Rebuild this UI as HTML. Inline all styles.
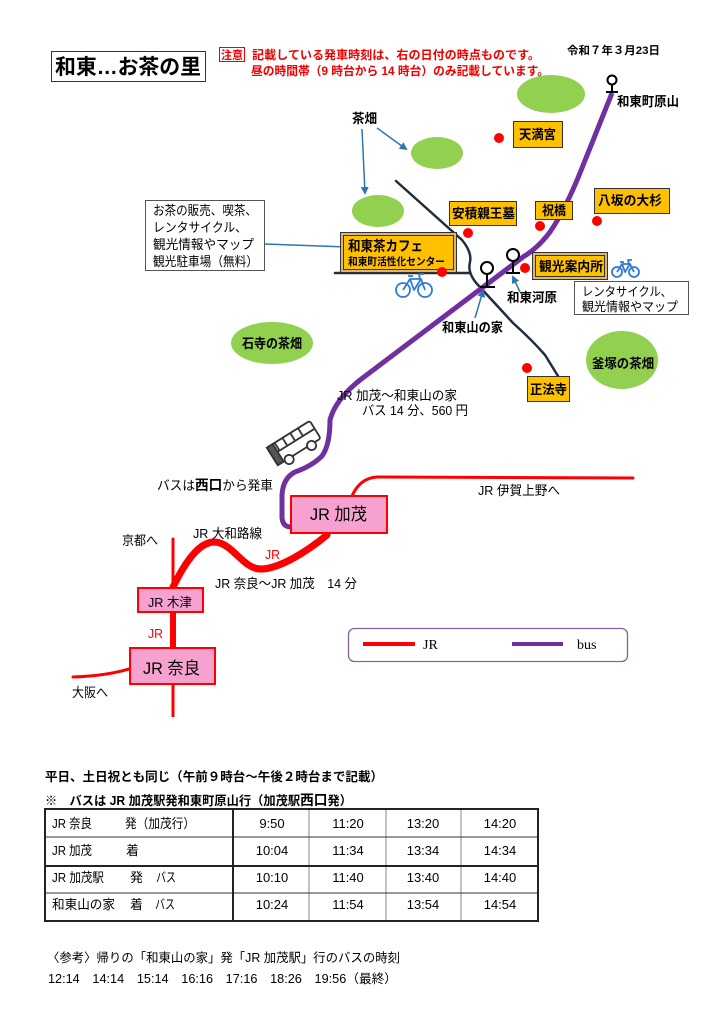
<!DOCTYPE html>
<html><head><meta charset="utf-8"><style>
html,body{margin:0;padding:0;background:#fff;}
svg{display:block;}
text{font-family:"Liberation Sans","Noto Sans CJK JP",sans-serif;}
.b{font-weight:bold;}
</style></head><body>
<svg width="724" height="1024" viewBox="0 0 724 1024" xmlns="http://www.w3.org/2000/svg">
<defs>
<marker id="ar" markerWidth="8" markerHeight="8" refX="6" refY="4" orient="auto" markerUnits="userSpaceOnUse">
<path d="M0,0 L8,4 L0,8 Z" fill="#2e75b6"/></marker>
</defs>

<!-- Title -->
<rect x="51.5" y="51.5" width="154" height="30" fill="#fff" stroke="#333" stroke-width="1"/>
<text x="55" y="74" font-size="21" class="b" textLength="146" lengthAdjust="spacingAndGlyphs">和東…お茶の里</text>

<rect x="219.5" y="47.5" width="25" height="14" fill="#fff" stroke="#e00" stroke-width="1"/>
<text x="221" y="59" font-size="11.5" class="b" fill="#e00" textLength="22" lengthAdjust="spacingAndGlyphs">注意</text>
<text x="252" y="59" font-size="12" class="b" fill="#e00" textLength="288" lengthAdjust="spacingAndGlyphs">記載している発車時刻は、右の日付の時点ものです。</text>
<text x="251" y="75" font-size="12" class="b" fill="#e00" textLength="298" lengthAdjust="spacingAndGlyphs">昼の時間帯（9 時台から 14 時台）のみ記載しています。</text>
<text x="567" y="54" font-size="11" class="b" textLength="93" lengthAdjust="spacingAndGlyphs">令和７年３月23日</text>

<!-- green fields -->
<g fill="#92d050">
<ellipse cx="551" cy="94" rx="34" ry="19"/>
<ellipse cx="437" cy="153" rx="26" ry="16"/>
<ellipse cx="378" cy="211" rx="26" ry="16"/>
<ellipse cx="272" cy="343" rx="41" ry="21"/>
<ellipse cx="622" cy="360" rx="36" ry="29"/>
</g>
<text x="242" y="348" font-size="13" class="b" textLength="60" lengthAdjust="spacingAndGlyphs">石寺の茶畑</text>
<text x="592" y="368" font-size="13" class="b" textLength="62" lengthAdjust="spacingAndGlyphs">釜塚の茶畑</text>

<!-- 茶畑 label and arrows -->
<text x="352" y="123" font-size="13" class="b" textLength="25" lengthAdjust="spacingAndGlyphs">茶畑</text>
<line x1="362" y1="129" x2="365" y2="193" stroke="#2e75b6" stroke-width="1.5" marker-end="url(#ar)"/>
<line x1="377" y1="128" x2="406" y2="149" stroke="#2e75b6" stroke-width="1.5" marker-end="url(#ar)"/>

<!-- info box -->
<rect x="145.5" y="200.5" width="119" height="70" fill="#fff" stroke="#555" stroke-width="1"/>
<text x="153" y="215" font-size="13" textLength="104" lengthAdjust="spacingAndGlyphs">お茶の販売、喫茶、</text>
<text x="153" y="232" font-size="13" textLength="94" lengthAdjust="spacingAndGlyphs">レンタサイクル、</text>
<text x="153" y="249" font-size="13" textLength="101" lengthAdjust="spacingAndGlyphs">観光情報やマップ</text>
<text x="153" y="266" font-size="13" textLength="105" lengthAdjust="spacingAndGlyphs">観光駐車場（無料）</text>
<line x1="265" y1="244" x2="347" y2="247" stroke="#2e75b6" stroke-width="1.5" marker-end="url(#ar)"/>

<!-- dark road -->
<g fill="none" stroke="#1f2d3d" stroke-width="2.5" stroke-linecap="round">
<path d="M396,181 L462,240 Q472,252 470,262 Q467,273 478,285 L513,323 Q532,340 545,355 L558,376"/>
<line x1="335" y1="273" x2="470" y2="273"/>
</g>

<!-- cafe box -->
<rect x="340.5" y="232.5" width="116" height="40" fill="#d8b872" stroke="#333" stroke-width="1"/>
<rect x="343.5" y="235.5" width="110" height="34" fill="#ffc000" stroke="#333" stroke-width="1"/>
<text x="348" y="251" font-size="14" class="b" textLength="75" lengthAdjust="spacingAndGlyphs">和東茶カフェ</text>
<text x="348" y="265" font-size="10.5" class="b" textLength="97" lengthAdjust="spacingAndGlyphs">和東町活性化センター</text>

<!-- purple bus route -->
<path d="M612,93 L580,173 Q565,210 550,232 Q538,248 523,257 L360,380 Q335,400 330,420 Q330,445 322,456 Q312,466 295,472 Q283,478 282,495 L282,518 Q283,527 291,527" fill="none" stroke="#7030a0" stroke-width="5" stroke-linejoin="round"/>

<!-- orange boxes -->
<g fill="#ffc000" stroke="#333" stroke-width="1">
<rect x="513.5" y="121.5" width="49" height="26"/>
<rect x="449.5" y="201.5" width="67" height="24"/>
<rect x="535.5" y="201.5" width="37" height="18"/>
<rect x="594.5" y="188.5" width="75" height="25"/>
<rect x="527.5" y="376.5" width="42" height="25"/>
</g>
<rect x="532.5" y="252.5" width="75" height="27" fill="#d8b872" stroke="#333" stroke-width="1"/>
<rect x="535.5" y="255.5" width="69" height="21" fill="#ffc000" stroke="#333" stroke-width="1"/>
<g font-size="13" class="b">
<text x="519" y="139" textLength="37" lengthAdjust="spacingAndGlyphs">天満宮</text>
<text x="452" y="218" textLength="63" lengthAdjust="spacingAndGlyphs">安積親王墓</text>
<text x="542" y="215" textLength="24" lengthAdjust="spacingAndGlyphs">祝橋</text>
<text x="598" y="205" textLength="64" lengthAdjust="spacingAndGlyphs">八坂の大杉</text>
<text x="539" y="271" textLength="64" lengthAdjust="spacingAndGlyphs">観光案内所</text>
<text x="530" y="394" textLength="37" lengthAdjust="spacingAndGlyphs">正法寺</text>
</g>

<!-- red dots -->
<g fill="#ff0000">
<circle cx="499" cy="138" r="5"/>
<circle cx="468" cy="233" r="5"/>
<circle cx="540" cy="226" r="5"/>
<circle cx="597" cy="221" r="5"/>
<circle cx="525" cy="268" r="5"/>
<circle cx="442" cy="272" r="5"/>
<circle cx="527" cy="368" r="5"/>
</g>

<!-- bus stops -->
<g fill="none" stroke="#000" stroke-width="2">
<circle cx="612" cy="80" r="4.5"/>
<line x1="612" y1="85" x2="612" y2="92"/>
<line x1="606" y1="92" x2="618" y2="92"/>
<circle cx="487" cy="268" r="6"/>
<line x1="487" y1="274" x2="487" y2="287"/>
<line x1="480" y1="287" x2="495" y2="287"/>
<circle cx="513" cy="255" r="6"/>
<line x1="513" y1="261" x2="513" y2="273"/>
<line x1="506" y1="273" x2="520" y2="273"/>
</g>
<text x="617" y="106" font-size="13" class="b" textLength="62" lengthAdjust="spacingAndGlyphs">和東町原山</text>
<text x="507" y="302" font-size="13" class="b" textLength="50" lengthAdjust="spacingAndGlyphs">和東河原</text>
<text x="442" y="332" font-size="13" class="b" textLength="61" lengthAdjust="spacingAndGlyphs">和東山の家</text>
<line x1="475" y1="318" x2="483" y2="291" stroke="#2e75b6" stroke-width="1.5" marker-end="url(#ar)"/>
<line x1="520" y1="292" x2="513" y2="277" stroke="#2e75b6" stroke-width="1.5" marker-end="url(#ar)"/>

<!-- rental box -->
<rect x="574.5" y="281.5" width="114" height="33" fill="#fff" stroke="#555" stroke-width="1"/>
<text x="582" y="296" font-size="12.5" textLength="90" lengthAdjust="spacingAndGlyphs">レンタサイクル、</text>
<text x="582" y="311" font-size="12.5" textLength="96" lengthAdjust="spacingAndGlyphs">観光情報やマップ</text>

<!-- bicycles -->
<g fill="none" stroke="#2e7bd6" stroke-width="1.8" stroke-linejoin="round">
<circle cx="403" cy="290" r="7"/>
<circle cx="425" cy="290" r="7"/>
<path d="M403,290 L410,279 L421,279 L425,290 M410,279 L414,290 L421,279 M408,276 L413,276 M420,279 L419,274 L424,274"/>
<circle cx="617" cy="272" r="5"/>
<circle cx="634" cy="272" r="5"/>
<path d="M617,272 L622,264 L630,264 L634,272 M622,264 L625,272 L630,264 M620,262 L624,262 M629,264 L628,260 L632,260"/>
</g>

<!-- bus text -->
<text x="337" y="400" font-size="13" textLength="120" lengthAdjust="spacingAndGlyphs">JR 加茂～和東山の家</text>
<text x="362" y="415" font-size="13" textLength="106" lengthAdjust="spacingAndGlyphs">バス 14 分、560 円</text>

<!-- bus icon -->
<g transform="translate(295,445) rotate(-32) scale(1.15)" fill="none" stroke="#333" stroke-width="1.6">
<rect x="-22" y="-11" width="44" height="18" rx="2" fill="#fff"/>
<line x1="-22" y1="-3" x2="22" y2="-3"/>
<line x1="-14" y1="-11" x2="-14" y2="-3"/>
<line x1="-6" y1="-11" x2="-6" y2="-3"/>
<line x1="2" y1="-11" x2="2" y2="-3"/>
<line x1="10" y1="-11" x2="10" y2="-3"/>
<rect x="-22" y="-11" width="6" height="18" fill="#555"/>
<circle cx="-11" cy="8" r="4" fill="#fff"/>
<circle cx="12" cy="8" r="4" fill="#fff"/>
</g>

<text x="157" y="490" font-size="13" textLength="116" lengthAdjust="spacingAndGlyphs">バスは<tspan class="b" font-size="14">西口</tspan>から発車</text>

<!-- JR lines -->
<g fill="none" stroke="#ff0000" stroke-linecap="round">
<path d="M352,496 Q360,478 377,477 L633,478" stroke-width="3"/>
<path d="M327,535 C305,553 280,568 262,569 C245,570 235,548 220,543 C205,538 190,552 173,587" stroke-width="7"/>
<line x1="173" y1="539" x2="173" y2="588" stroke-width="3"/>
<line x1="173" y1="612" x2="173" y2="648" stroke-width="6"/>
<line x1="173" y1="684" x2="173" y2="717" stroke-width="3" stroke-linecap="butt"/>
<path d="M73,677 Q105,676 129,669" stroke-width="3"/>
</g>

<!-- station boxes -->
<rect x="291" y="496" width="96" height="37" fill="#f7a1d0" stroke="#ff0000" stroke-width="2"/>
<text x="310" y="520" font-size="17" textLength="57" lengthAdjust="spacingAndGlyphs">JR 加茂</text>
<rect x="138" y="588" width="65" height="24" fill="#f7a1d0" stroke="#ff0000" stroke-width="2"/>
<text x="148" y="607" font-size="13" textLength="44" lengthAdjust="spacingAndGlyphs">JR 木津</text>
<rect x="130" y="648" width="85" height="36" fill="#f7a1d0" stroke="#ff0000" stroke-width="2"/>
<text x="143" y="674" font-size="17" textLength="57" lengthAdjust="spacingAndGlyphs">JR 奈良</text>

<text x="478" y="495" font-size="13" textLength="82" lengthAdjust="spacingAndGlyphs">JR 伊賀上野へ</text>
<text x="193" y="538" font-size="13" textLength="69" lengthAdjust="spacingAndGlyphs">JR 大和路線</text>
<text x="265" y="559" font-size="13" fill="#ff0000" textLength="15" lengthAdjust="spacingAndGlyphs">JR</text>
<text x="215" y="588" font-size="13" textLength="142" lengthAdjust="spacingAndGlyphs">JR 奈良～JR 加茂　14 分</text>
<text x="122" y="545" font-size="13" textLength="36" lengthAdjust="spacingAndGlyphs">京都へ</text>
<text x="148" y="638" font-size="13" fill="#ff0000" textLength="15" lengthAdjust="spacingAndGlyphs">JR</text>
<text x="72" y="697" font-size="13" textLength="36" lengthAdjust="spacingAndGlyphs">大阪へ</text>

<!-- legend -->
<rect x="348.5" y="628.5" width="279" height="33" rx="6" fill="#fff" stroke="#8064a2" stroke-width="1.3"/>
<line x1="363" y1="644" x2="415" y2="644" stroke="#ff0000" stroke-width="4"/>
<text x="423" y="649" font-size="14" style="font-family:'Liberation Serif',serif">JR</text>
<line x1="512" y1="644" x2="563" y2="644" stroke="#7030a0" stroke-width="4"/>
<text x="577" y="649" font-size="14" style="font-family:'Liberation Serif',serif">bus</text>

<!-- timetable header -->
<text x="45" y="781" font-size="12.5" class="b" textLength="338" lengthAdjust="spacingAndGlyphs">平日、土日祝とも同じ（午前９時台～午後２時台まで記載）</text>
<text x="45" y="805" font-size="12.5" class="b" textLength="307" lengthAdjust="spacingAndGlyphs">※　バスは JR 加茂駅発和東町原山行（加茂駅<tspan font-size="14">西口</tspan>発）</text>

<!-- table -->
<g stroke="#888" stroke-width="1">
<line x1="309" y1="809" x2="309" y2="921"/>
<line x1="386" y1="809" x2="386" y2="921"/>
<line x1="461" y1="809" x2="461" y2="921"/>
</g>
<g stroke="#333" stroke-width="1">
<line x1="45" y1="837" x2="538" y2="837"/>
<line x1="45" y1="893" x2="538" y2="893"/>
</g>
<g stroke="#222" stroke-width="2" fill="none">
<rect x="45" y="809" width="493" height="112"/>
<line x1="45" y1="866" x2="538" y2="866"/>
<line x1="233" y1="809" x2="233" y2="921"/>
</g>
<g font-size="13">
<text x="52" y="828" textLength="40" lengthAdjust="spacingAndGlyphs">JR 奈良</text>
<text x="125" y="828" textLength="70" lengthAdjust="spacingAndGlyphs">発（加茂行）</text>
<text x="52" y="855" textLength="40" lengthAdjust="spacingAndGlyphs">JR 加茂</text>
<text x="126" y="855">着</text>
<text x="52" y="882" textLength="52" lengthAdjust="spacingAndGlyphs">JR 加茂駅</text>
<text x="130" y="882">発</text>
<text x="156" y="882" textLength="20" lengthAdjust="spacingAndGlyphs">バス</text>
<text x="52" y="909" textLength="63" lengthAdjust="spacingAndGlyphs">和東山の家</text>
<text x="130" y="909">着</text>
<text x="155" y="909" textLength="20" lengthAdjust="spacingAndGlyphs">バス</text>
</g>
<g font-size="13" text-anchor="middle">
<text x="272" y="828">9:50</text><text x="348" y="828">11:20</text><text x="423" y="828">13:20</text><text x="500" y="828">14:20</text>
<text x="272" y="855">10:04</text><text x="348" y="855">11:34</text><text x="423" y="855">13:34</text><text x="500" y="855">14:34</text>
<text x="272" y="882">10:10</text><text x="348" y="882">11:40</text><text x="423" y="882">13:40</text><text x="500" y="882">14:40</text>
<text x="272" y="909">10:24</text><text x="348" y="909">11:54</text><text x="423" y="909">13:54</text><text x="500" y="909">14:54</text>
</g>

<!-- bottom -->
<text x="47" y="962" font-size="12.5" textLength="353" lengthAdjust="spacingAndGlyphs">〈参考〉帰りの「和東山の家」発「JR 加茂駅」行のバスの時刻</text>
<text x="48" y="983" font-size="12.5" textLength="349" lengthAdjust="spacingAndGlyphs">12:14　14:14　15:14　16:16　17:16　18:26　19:56（最終）</text>
</svg>
</body></html>
